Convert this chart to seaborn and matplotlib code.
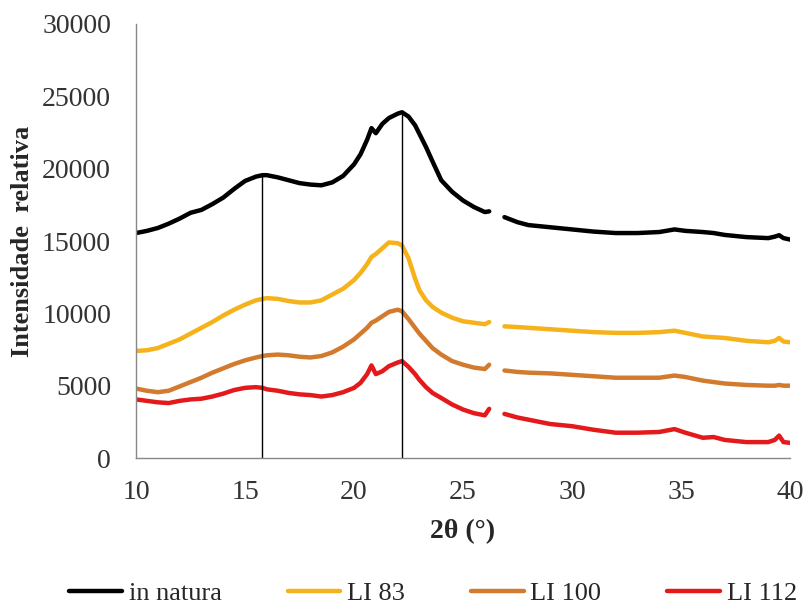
import matplotlib
matplotlib.use("Agg")
import matplotlib.pyplot as plt
import seaborn as sns
import pandas as pd

# Estilo base
sns.set_style("white")
plt.rcParams["font.family"] = ["Liberation Serif", "DejaVu Serif"]

# Datos DRX (2θ en grados, intensidad relativa)
two_theta = [10, 10.5, 11, 11.5, 12, 12.5, 13, 13.5, 14, 14.5,
             15, 15.5, 15.8, 16, 16.5, 17, 17.5, 18, 18.5, 19,
             19.5, 20, 20.3, 20.6, 20.8, 21, 21.3, 21.6, 22, 22.2,
             22.5, 22.8, 23, 23.3, 23.6, 24, 24.5, 25, 25.5, 26,
             26.2, 26.9, 27.5, 28, 29, 30, 31, 32, 33, 34,
             34.7, 35.2, 36, 36.5, 37, 38, 39, 39.3, 39.5, 39.7,
             40]

in_natura = [15550, 15700, 15900, 16200, 16550, 16950, 17150, 17550, 18000, 18600,
             19150, 19450, 19550, 19550, 19400, 19200, 19000, 18900, 18850, 19050,
             19500, 20300, 21000, 22000, 22800, 22450, 23100, 23500, 23800, 23900,
             23600, 23000, 22400, 21500, 20500, 19200, 18400, 17800, 17350, 17000,
             17050, 16650, 16300, 16100, 15950, 15800, 15650, 15550, 15550, 15620,
             15800, 15700, 15620, 15550, 15420, 15270, 15200, 15300, 15400, 15200,
             15100]

li_83 = [7400, 7450, 7600, 7900, 8200, 8600, 9000, 9400, 9850, 10250,
         10600, 10900, 11000, 11050, 11000, 10850, 10750, 10750, 10900, 11300,
         11700, 12300, 12800, 13400, 13900, 14100, 14500, 14900, 14850, 14700,
         13800, 12400, 11600, 10900, 10450, 10050, 9700, 9450, 9350, 9250,
         9400, 9100, 9050, 9000, 8900, 8800, 8700, 8650, 8650, 8700,
         8800, 8650, 8400, 8350, 8300, 8100, 8000, 8100, 8300, 8050,
         8000]

li_100 = [4800, 4650, 4550, 4650, 4950, 5250, 5550, 5900, 6200, 6500,
          6750, 6950, 7050, 7100, 7150, 7100, 7000, 6950, 7050, 7300,
          7700, 8200, 8600, 9000, 9350, 9500, 9800, 10100, 10250, 10150,
          9600, 9000, 8600, 8100, 7600, 7150, 6700, 6450, 6250, 6150,
          6450, 6050, 5950, 5900, 5850, 5750, 5650, 5550, 5550, 5550,
          5700, 5600, 5350, 5250, 5150, 5050, 5000, 5000, 5050, 5000,
          5000]

li_112 = [4050, 3950, 3850, 3800, 3950, 4050, 4100, 4250, 4450, 4700,
          4850, 4900, 4850, 4750, 4650, 4500, 4400, 4350, 4250, 4350,
          4550, 4850, 5200, 5800, 6400, 5800, 6000, 6350, 6600, 6700,
          6300, 5800, 5400, 4900, 4500, 4150, 3700, 3350, 3100, 2950,
          3400, 3050, 2800, 2650, 2350, 2200, 1950, 1750, 1750, 1800,
          2000, 1750, 1400, 1450, 1250, 1100, 1100, 1250, 1550, 1100,
          1050]

series_names = ["in natura", "LI 83", "LI 100", "LI 112"]
series_values = [in_natura, li_83, li_100, li_112]
colores = ["#000000", "#F5B21A", "#D27B2E", "#E3191C"]

# hueco en los datos entre 26.2 y 26.9
gap_at = 26.5
# picos marcados con líneas verticales
picos = [15.8, 22.2]

# DataFrame largo
rows = []
for name, vals in zip(series_names, series_values):
    for x, y in zip(two_theta, vals):
        rows.append({"2theta": x, "I": y, "muestra": name,
                     "tramo": 0 if x < gap_at else 1})
df = pd.DataFrame(rows)

fig = plt.figure(figsize=(8.05, 6.12), dpi=100)
ax = fig.add_axes([0.169, 0.2516, 0.8124, 0.7092])

sns.lineplot(data=df, x="2theta", y="I", hue="muestra", units="tramo",
             estimator=None, sort=False, palette=dict(zip(series_names, colores)),
             linewidth=3.2, ax=ax)

# líneas verticales en los picos de la muestra in natura
for p in picos:
    h = in_natura[two_theta.index(p)]
    ax.plot([p, p], [0, h], color="black", linewidth=1)

ax.set_xlim(10, 40)
ax.set_ylim(0, 30000)
ax.set_xticks([10, 15, 20, 25, 30, 35, 40])
ax.set_yticks([0, 5000, 10000, 15000, 20000, 25000, 30000])
ax.tick_params(axis="both", labelsize=20, colors="#333333", length=6,
               width=1, color="#888888", direction="out")
ax.tick_params(axis="x", pad=10)
ax.tick_params(axis="y", pad=12)

for s in ["top", "right"]:
    ax.spines[s].set_visible(False)
for s in ["left", "bottom"]:
    ax.spines[s].set_color("#888888")
    ax.spines[s].set_linewidth(1)

ax.set_xlabel("2θ (°)", fontsize=20, fontweight="bold", labelpad=10)
ax.set_ylabel("Intensidade  relativa", fontsize=19, fontweight="bold", labelpad=6)

sns.move_legend(ax, "center", bbox_to_anchor=(0.538, 0.031),
                bbox_transform=fig.transFigure, ncol=4, frameon=False,
                title=None, fontsize=19, handlelength=2.0,
                handletextpad=0.25, columnspacing=2.5)

fig.savefig("out.png", dpi=100)
